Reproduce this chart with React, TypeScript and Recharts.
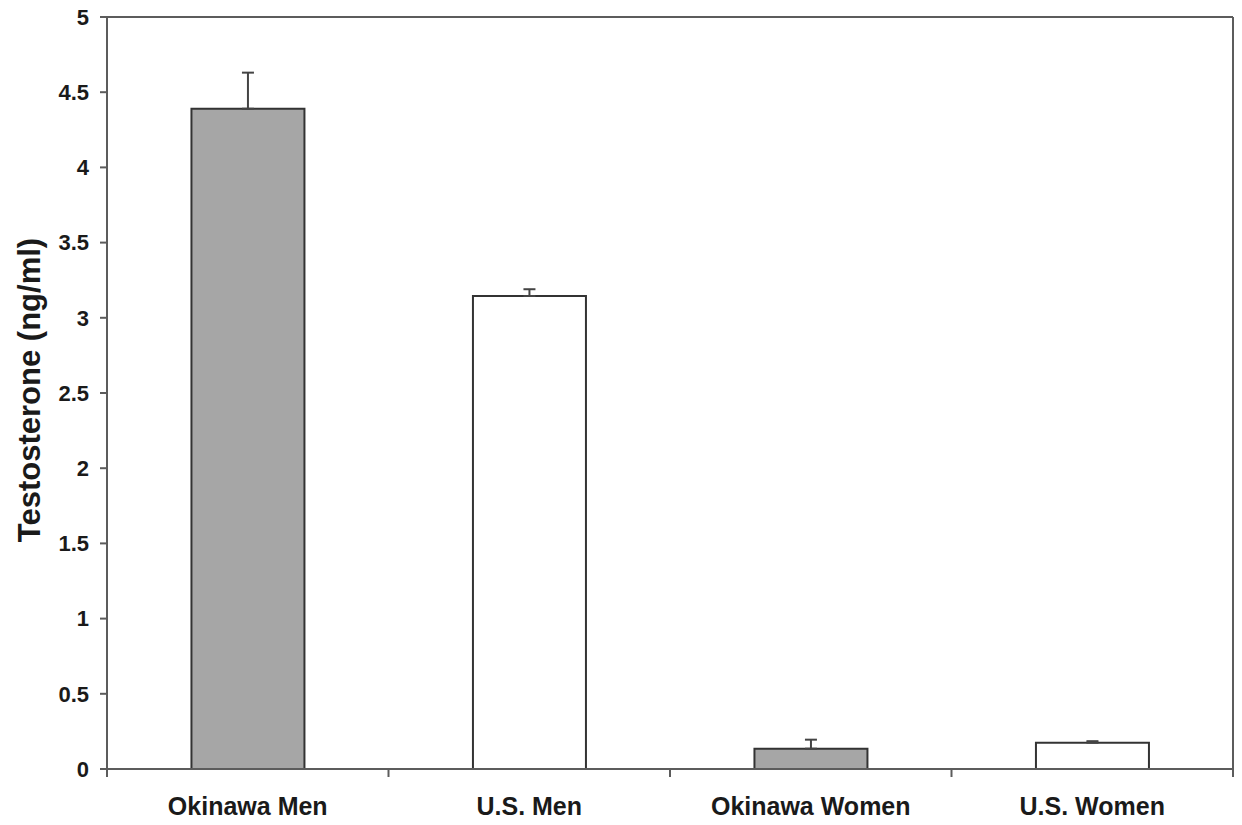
import React from "react";
import { BarChart, Bar, XAxis, YAxis, ErrorBar, Cell } from "recharts";

const categories = ["Okinawa Men", "U.S. Men", "Okinawa Women", "U.S. Women"];
const means = [4.39, 3.145, 0.135, 0.175];
const sem = [0.24, 0.045, 0.06, 0.01];
const yTicks = [0, 0.5, 1, 1.5, 2, 2.5, 3, 3.5, 4, 4.5, 5];

const fills = ["#a6a6a6", "#ffffff", "#a6a6a6", "#ffffff"];
const axisColor = "#5c5c5c";
const textColor = "#1a1a1a";
const font = "'Liberation Sans', Arial, sans-serif";
const labelGap = 28; // tickSize (6) + tickMargin (22)

const data = categories.map((name, i) => ({
  name,
  mean: means[i],
  err: [0, sem[i]],
}));

// category label plus the tick marks that sit between categories
function CategoryTick({ x, y, payload, index, visibleTicksCount }: any) {
  const half = payload.offset || 0;
  const axisY = y - labelGap;
  const last = index === visibleTicksCount - 1;
  return (
    <g>
      <line x1={x - half} x2={x - half} y1={axisY} y2={axisY + 8} stroke={axisColor} strokeWidth={2} />
      {last && (
        <line x1={x + half} x2={x + half} y1={axisY} y2={axisY + 8} stroke={axisColor} strokeWidth={2} />
      )}
      <text
        x={x}
        y={y}
        dy="0.71em"
        textAnchor="middle"
        fontFamily={font}
        fontWeight="bold"
        fontSize={25}
        fill={textColor}
      >
        {payload.value}
      </text>
    </g>
  );
}

function YLabel({ viewBox }: any) {
  const cy = viewBox.y + viewBox.height / 2 - 3;
  return (
    <text
      x={29}
      y={cy}
      transform={`rotate(-90, 29, ${cy})`}
      textAnchor="middle"
      dominantBaseline="central"
      fontFamily={font}
      fontWeight="bold"
      fontSize={31}
      fill={textColor}
    >
      Testosterone (ng/ml)
    </text>
  );
}

export default function App() {
  return (
    <div style={{ position: "absolute", left: 0, top: 0, background: "#fff" }}>
      <BarChart
        width={1242}
        height={825}
        data={data}
        margin={{ top: 16, right: 8, left: 0, bottom: 0 }}
        barCategoryGap="30%"
      >
        <XAxis
          dataKey="name"
          height={56}
          tickLine={false}
          tickSize={6}
          tickMargin={22}
          interval={0}
          axisLine={{ stroke: axisColor, strokeWidth: 2 }}
          tick={<CategoryTick />}
        />
        <XAxis
          xAxisId="top"
          orientation="top"
          dataKey="name"
          height={1}
          tick={false}
          tickLine={false}
          axisLine={{ stroke: axisColor, strokeWidth: 2 }}
        />
        <YAxis
          width={107}
          domain={[0, 5]}
          ticks={yTicks}
          tickSize={7}
          tickMargin={11}
          interval={0}
          tickLine={{ stroke: axisColor, strokeWidth: 2 }}
          axisLine={{ stroke: axisColor, strokeWidth: 2 }}
          tick={{ fontFamily: font, fontWeight: "bold", fontSize: 22, fill: textColor }}
          label={{ content: YLabel }}
        />
        <YAxis
          yAxisId="right"
          orientation="right"
          width={1}
          domain={[0, 5]}
          tick={false}
          tickLine={false}
          axisLine={{ stroke: axisColor, strokeWidth: 2 }}
        />
        <Bar dataKey="mean" stroke="#333" strokeWidth={2} isAnimationActive={false}>
          {data.map((d, i) => (
            <Cell key={d.name} fill={fills[i]} />
          ))}
          <ErrorBar dataKey="err" direction="y" width={6} stroke="#444" strokeWidth={2} />
        </Bar>
      </BarChart>
    </div>
  );
}
